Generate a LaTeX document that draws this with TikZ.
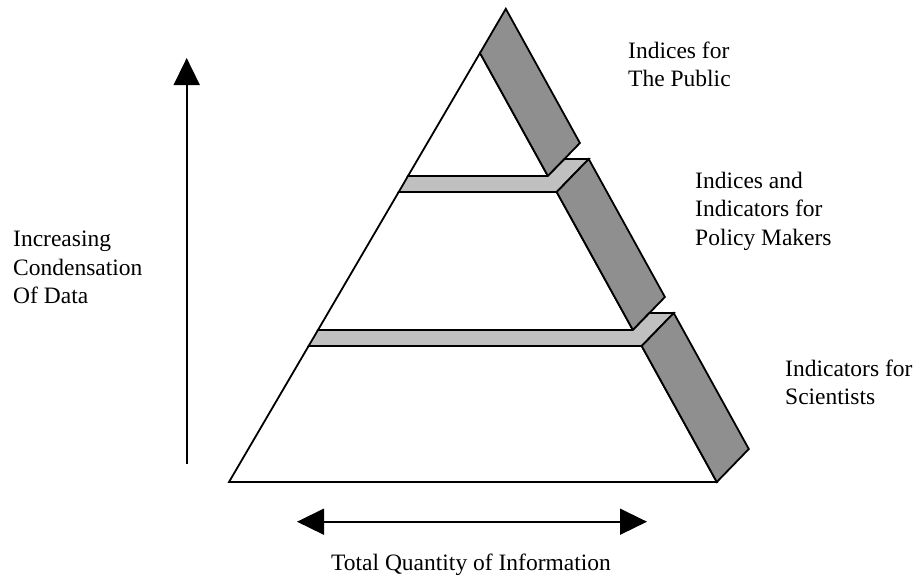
\documentclass[tikz,border=0pt]{standalone}
\usepackage{fontspec}
\setmainfont{Liberation Serif}
\usetikzlibrary{arrows.meta}
\definecolor{sidegray}{RGB}{143,143,143}
\definecolor{topgray}{RGB}{192,192,192}
\tikzset{
  face/.style={draw=black, line width=1.8pt, line join=miter, fill=white},
  side/.style={face, fill=sidegray},
  ledge/.style={face, fill=topgray},
  lbl/.style={anchor=base west, inner sep=0pt, font=\fontsize{23.5}{28.5}\selectfont},
  axis/.style={line width=1.6pt, -{Triangle[length=27pt,width=26pt]}},
  axis2/.style={line width=1.6pt, {Triangle[length=27pt,width=26pt]}-{Triangle[length=27pt,width=26pt]}}
}
\begin{document}
\begin{tikzpicture}[x=1pt,y=-1pt]
\useasboundingbox (0,0) rectangle (917,576);
% top section
\draw[face] (480,53) -- (408,176) -- (547.9,176) -- cycle;
\draw[side] (480,53) -- (505.8,8.8) -- (579.9,143) -- (547.9,176) -- cycle;
% ledge 1
\draw[ledge] (398.7,192) -- (408,176) -- (547.9,176) -- (564.5,159) -- (588.7,159) -- (556.7,192) -- cycle;
% middle section
\draw[face] (398.7,192) -- (556.7,192) -- (632.9,330) -- (318,330) -- cycle;
\draw[side] (556.7,192) -- (588.7,159) -- (664.9,297) -- (632.9,330) -- cycle;
% ledge 2
\draw[ledge] (308.6,346) -- (318,330) -- (632.9,330) -- (649.4,313) -- (673.7,313) -- (641.7,346) -- cycle;
% bottom section
\draw[face] (308.6,346) -- (641.7,346) -- (716.8,482) -- (229,482) -- cycle;
\draw[side] (641.7,346) -- (673.7,313) -- (748.8,449) -- (716.8,482) -- cycle;
% axes
\coordinate (vlo) at (186.7,464);
\coordinate (vhi) at (186.7,58);
\draw[axis] (vlo) -- (vhi);
\coordinate (hl) at (297,521.7);
\coordinate (hr) at (647,521.7);
\draw[axis2] (hl) -- (hr);
% labels
\node[lbl] (p1) at (628,58) {Indices for};
\node[lbl] (p2) at (628,86.7) {The Public};
\node[lbl] (m1) at (695,188.3) {Indices and};
\node[lbl] (m2) at (695,216.7) {Indicators for};
\node[lbl] (m3) at (695,245) {Policy Makers};
\node[lbl] (s1) at (785,376.7) {Indicators for};
\node[lbl] (s2) at (785,404.3) {Scientists};
\node[lbl] (c1) at (13,246.7) {Increasing};
\node[lbl] (c2) at (13,275) {Condensation};
\node[lbl] (c3) at (13,303) {Of Data};
\node[lbl, anchor=base] (q) at (471,570) {Total Quantity of Information};
\end{tikzpicture}
\end{document}
